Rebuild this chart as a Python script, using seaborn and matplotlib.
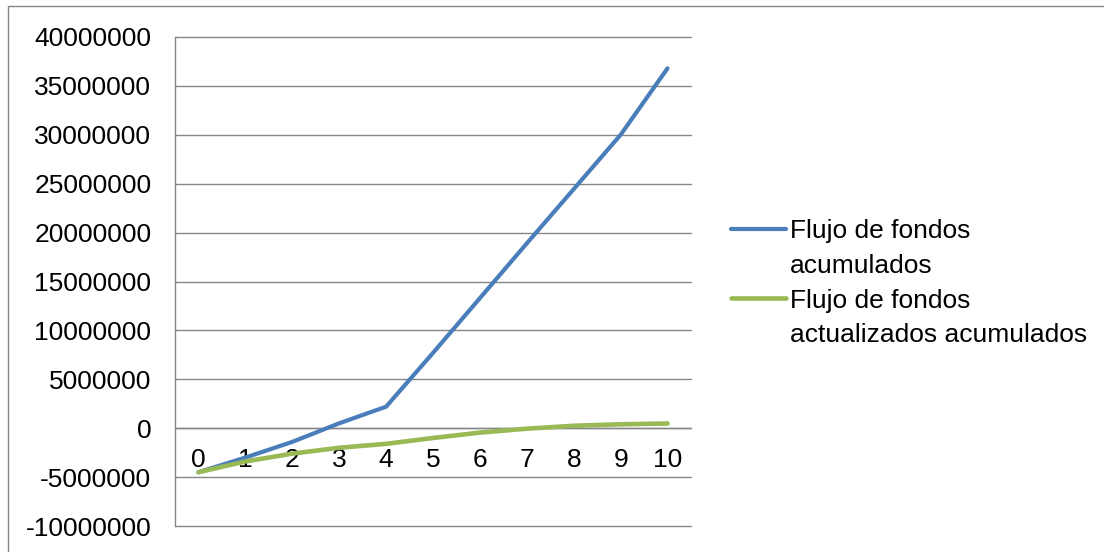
import numpy as np
import pandas as pd
import matplotlib
matplotlib.use("Agg")
import matplotlib.pyplot as plt
from matplotlib.lines import Line2D
from matplotlib.patches import Rectangle
from matplotlib.ticker import FixedLocator, FixedFormatter, NullFormatter, FuncFormatter
import seaborn as sns

# Cash-flow projection per period
periodos = list(range(11))
flujo_acumulado = [-4500000, -3000000, -1400000, 500000, 2200000, 7700000,
                   13300000, 18900000, 24450000, 30000000, 36800000]
flujo_actualizado_acumulado = [-4500000, -3400000, -2600000, -2000000, -1600000, -1000000,
                               -450000, -50000, 250000, 400000, 480000]
series = ["Flujo de fondos acumulados", "Flujo de fondos actualizados acumulados"]
leyenda = ["Flujo de fondos", "acumulados", "Flujo de fondos", "actualizados acumulados"]
colores = ["#4A7EBB", "#98B954"]
y_ticks = list(range(-10000000, 40000001, 5000000))

sns.set_style("white")
plt.rcParams["font.family"] = ["Liberation Sans", "DejaVu Sans"]
plt.rcParams["text.color"] = "black"

GRIS = "#868686"
FS = 19
W, H = 1104, 552

fig = plt.figure(figsize=(W / 100, H / 100), dpi=100)
ax = fig.add_axes([175 / W, 1 - 526 / H, (691 - 175) / W, (526 - 37) / H])

df = pd.DataFrame({
    "periodo": periodos * 2,
    "valor": flujo_acumulado + flujo_actualizado_acumulado,
    "serie": [series[0]] * len(periodos) + [series[1]] * len(periodos),
})
anchos = [3.0, 3.3]
for nombre, color, lw in zip(series, colores, anchos):
    sns.lineplot(data=df[df["serie"] == nombre], x="periodo", y="valor", color=color,
                 linewidth=lw, ax=ax, legend=False, solid_capstyle="round",
                 solid_joinstyle="round", zorder=3)

ax.set_xlim(-0.5, len(periodos) - 0.5)
ax.set_ylim(y_ticks[0], y_ticks[-1])
ax.set_xlabel("")
ax.set_ylabel("")

# value axis
ax.yaxis.set_major_locator(FixedLocator(y_ticks))
ax.yaxis.set_major_formatter(FuncFormatter(lambda v, p: f"{int(round(v))}"))
ax.grid(axis="y", color=GRIS, linewidth=1.0)
ax.grid(axis="x", visible=False)
ax.set_axisbelow(True)
for gl in ax.get_ygridlines():
    gl.set_clip_on(False)

# category axis crossing at zero, ticks between categories
ax.spines["bottom"].set_position(("data", 0))
for s in ["top", "right"]:
    ax.spines[s].set_visible(False)
for s in ["left", "bottom"]:
    ax.spines[s].set_color(GRIS)
    ax.spines[s].set_linewidth(1.0)

ax.xaxis.set_major_locator(FixedLocator(np.arange(-0.5, len(periodos), 1.0)))
ax.xaxis.set_major_formatter(NullFormatter())
ax.xaxis.set_minor_locator(FixedLocator(periodos))
ax.xaxis.set_minor_formatter(FixedFormatter([str(p) for p in periodos]))
ax.tick_params(axis="x", which="major", direction="out", length=5, width=1, color=GRIS)
ax.tick_params(axis="x", which="minor", length=0, pad=14.5, labelsize=FS, labelcolor="black")
ax.tick_params(axis="y", direction="out", length=5, width=1, color=GRIS, pad=12,
               labelsize=FS, labelcolor="black")

# legend with the line beside the first line of each name
handles = [
    Line2D([], [], color=colores[0], lw=anchos[0], solid_capstyle="round"),
    Line2D([], [], alpha=0),
    Line2D([], [], color=colores[1], lw=anchos[1], solid_capstyle="round"),
    Line2D([], [], alpha=0),
]
leg = fig.legend(handles, leyenda, loc="upper left", bbox_to_anchor=(731 / W, 1 - 219 / H),
                 frameon=False, fontsize=FS, handlelength=2.1, handletextpad=0.12,
                 labelspacing=0.41, borderpad=0, borderaxespad=0)
for t in leg.get_texts():
    t.set_color("black")

# chart border
fig.add_artist(Rectangle((8 / W, -0.05), 1.2, 1 - 6 / H + 0.05, transform=fig.transFigure,
                         fill=False, edgecolor=GRIS, linewidth=1.0))

fig.savefig("out.png", dpi=100)
